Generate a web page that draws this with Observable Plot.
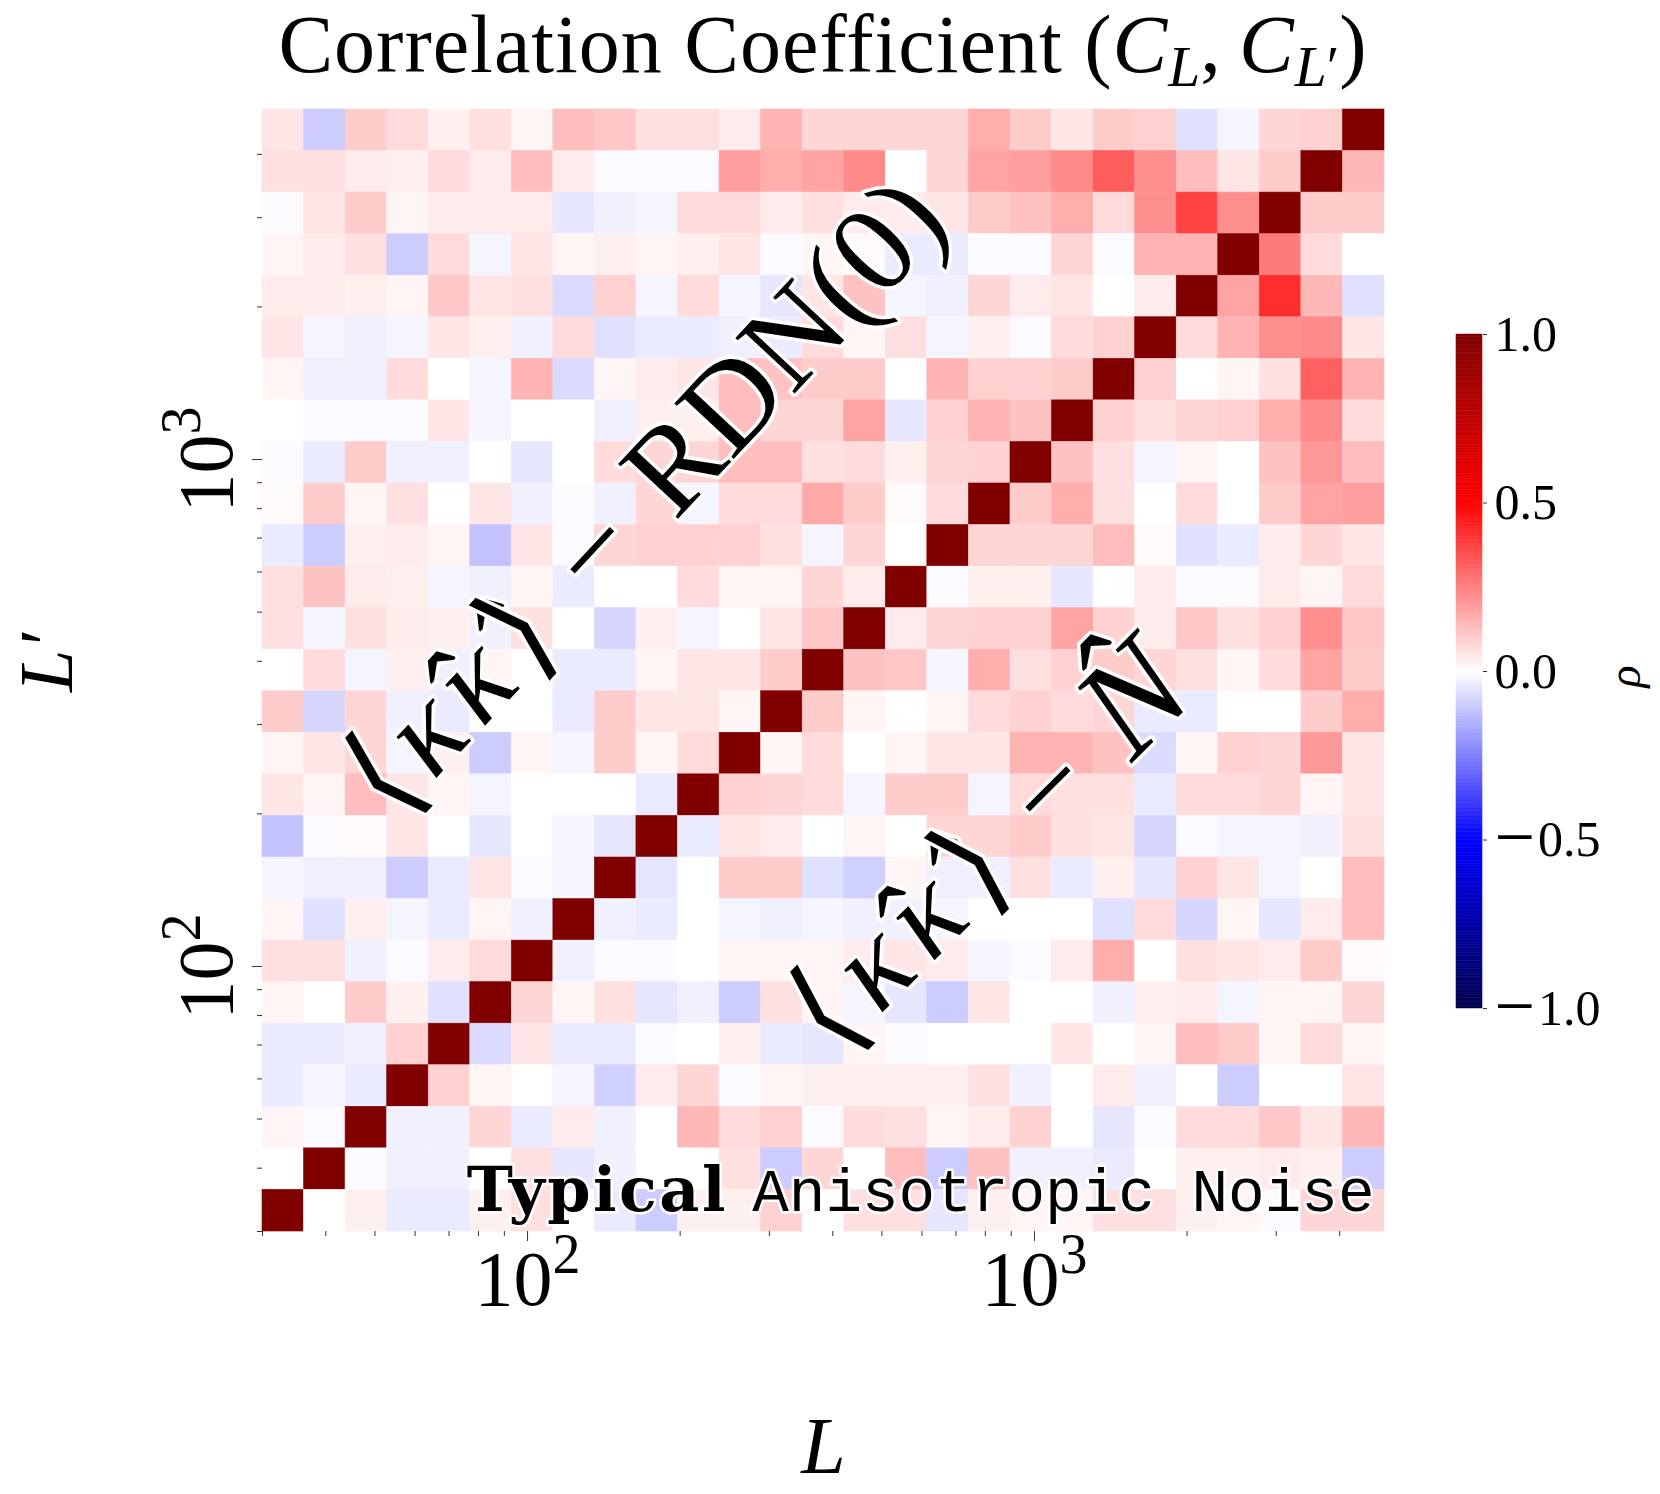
<!DOCTYPE html>
<html>
<head>
<meta charset="utf-8">
<script src="https://cdn.jsdelivr.net/npm/d3@7"></script>
<script src="https://cdn.jsdelivr.net/npm/@observablehq/plot@0.6"></script>
<style>
  body { margin: 0; background: #fff; }
  #wrap { position: relative; width: 1660px; height: 1494px; background: #fff; }
  #wrap svg { position: absolute; left: 0; top: 0; overflow: visible; }
  #title { position: absolute; left: 262px; width: 1122px; top: 5px; text-align: center;
           font-family: "Liberation Serif", serif; font-size: 82px; line-height: 80px; letter-spacing: 1px;
           white-space: nowrap; color: #000; z-index: 5; }
  #title sub { font-size: 0.7em; vertical-align: -0.24em; line-height: 0; letter-spacing: 0; }
</style>
</head>
<body>
<div id="wrap">
  <div id="title">Correlation Coefficient (<i>C</i><sub><i>L</i></sub>,&thinsp;<i>C</i><sub><i>L</i>′</sub>)</div>
</div>
<script>
// Multipole bin edges (log-spaced), shared by L (x) and L' (y)
const Ledges = [30.0, 36.24, 43.76, 52.86, 63.84, 77.10, 93.11, 112.45, 135.8, 164.0,
  198.1, 239.3, 289.0, 349.0, 421.5, 509.1, 614.8, 742.6, 896.9, 1083.2,
  1308.3, 1580.0, 1908.4, 2304.8, 2783.6, 3362.0, 4060.4, 4904.0];

// Correlation coefficient rho; rows from top (highest L' bin) to bottom, columns from lowest L bin
const rho = [
  [0.05,-0.1,0.1,0.07,0.03,0.06,0.02,0.13,0.11,0.06,0.06,0.04,0.15,0.08,0.08,0.08,0.08,0.16,0.1,0.05,0.1,0.09,-0.06,-0.02,0.08,0.09,1],
  [0.06,0.06,0.04,0.03,0.07,0.04,0.13,0.04,-0.01,-0.01,-0.01,0.19,0.16,0.18,0.23,0.0,0.08,0.18,0.19,0.23,0.32,0.22,0.13,0.05,0.1,1,0.14],
  [-0.01,0.05,0.1,0.02,0.04,0.04,0.04,-0.05,-0.03,-0.02,0.07,0.07,0.04,0.06,0.04,0.04,0.05,0.1,0.12,0.16,0.07,0.22,0.37,0.22,1,0.1,0.1],
  [0.02,0.04,0.06,-0.1,0.07,-0.02,0.05,0.02,0.03,0.02,0.03,0.05,-0.01,0.02,0.01,-0.04,-0.04,-0.01,-0.01,0.08,-0.01,0.15,0.15,1,0.26,0.07,0.0],
  [0.04,0.04,0.03,0.02,0.11,0.05,0.06,-0.07,0.09,-0.02,0.07,-0.02,-0.05,0.05,0.12,-0.02,-0.03,0.08,0.04,0.05,0.0,0.04,1,0.18,0.41,0.14,-0.06],
  [0.05,-0.02,-0.03,-0.02,0.05,0.03,-0.03,0.07,-0.06,-0.04,-0.04,-0.03,-0.04,0.07,0.02,0.06,-0.02,0.03,-0.01,0.07,0.09,1,0.07,0.15,0.22,0.23,0.05],
  [0.02,-0.03,-0.03,0.07,0.0,-0.02,0.15,-0.07,0.02,0.04,0.05,0.13,0.12,0.1,0.1,0.0,0.15,0.09,0.09,0.1,1,0.09,0.0,0.02,0.06,0.31,0.15],
  [0.0,-0.01,-0.01,-0.01,0.05,-0.02,0.0,0.0,-0.03,0.03,0.03,0.13,0.08,0.08,0.18,-0.05,0.09,0.15,0.12,1,0.09,0.06,0.08,0.09,0.16,0.23,0.07],
  [-0.01,-0.04,0.1,-0.03,-0.03,0.0,-0.05,0.0,0.07,0.08,0.08,0.13,0.13,0.06,0.07,0.03,0.08,0.09,1,0.12,0.06,-0.02,0.02,0.0,0.12,0.2,0.13],
  [0.01,0.1,0.02,0.06,0.0,0.05,-0.03,-0.01,-0.03,0.08,-0.02,0.07,0.07,0.17,0.1,0.01,0.07,1,0.1,0.16,0.06,0.0,0.07,0.0,0.1,0.18,0.19],
  [-0.04,-0.1,0.03,0.04,0.02,-0.12,0.05,-0.01,0.08,0.09,0.09,0.09,0.06,-0.02,0.08,0.0,1,0.08,0.08,0.08,0.13,0.01,-0.06,-0.04,0.04,0.08,0.05],
  [0.06,0.12,0.04,0.03,-0.02,-0.03,0.02,-0.04,0.0,0.0,0.07,0.02,0.02,0.08,0.04,1,-0.01,0.03,0.03,-0.05,0.0,0.04,-0.01,-0.01,0.04,0.02,0.07],
  [0.06,-0.02,0.06,0.04,0.03,-0.03,0.06,0.0,-0.08,0.03,-0.02,0.0,0.05,0.11,1,0.04,0.08,0.09,0.09,0.18,0.09,0.04,0.11,0.06,0.09,0.22,0.11],
  [0.0,0.07,-0.02,0.03,-0.03,0.02,0.0,-0.04,-0.04,0.02,0.05,0.05,0.1,1,0.12,0.11,-0.02,0.16,0.06,0.09,0.1,0.08,0.06,0.02,0.07,0.18,0.1],
  [0.1,-0.08,0.08,-0.03,-0.04,0.0,0.0,-0.04,0.1,0.05,0.05,0.02,1,0.1,0.02,0.0,0.02,0.07,0.09,0.07,0.08,-0.04,-0.04,0.0,0.0,0.1,0.16],
  [0.02,0.05,0.08,-0.02,0.03,-0.1,0.02,-0.02,0.1,0.02,0.07,1,0.02,0.07,0.0,0.02,0.05,0.05,0.15,0.15,0.12,-0.07,0.02,0.09,0.08,0.2,0.05],
  [0.05,0.02,0.13,0.05,0.02,-0.02,0.0,0.0,0.0,-0.04,1,0.09,0.08,0.07,-0.02,0.1,0.1,-0.02,0.07,0.06,0.06,-0.04,0.07,0.07,0.08,0.02,0.05],
  [-0.12,-0.01,0.01,0.05,0.0,-0.05,0.0,-0.02,-0.05,1,-0.04,0.05,0.04,0.0,0.02,0.0,0.08,0.08,0.1,0.06,0.05,-0.08,-0.01,-0.02,-0.02,-0.03,0.06],
  [-0.02,-0.03,-0.03,-0.1,-0.04,0.05,-0.01,-0.02,1,-0.05,0.0,0.1,0.1,-0.06,-0.09,0.02,-0.03,-0.03,0.06,-0.04,0.03,-0.05,0.09,0.05,-0.02,0.0,0.13],
  [0.02,-0.06,0.03,-0.02,-0.04,0.02,-0.03,1,-0.03,-0.04,0.0,-0.02,-0.03,-0.02,-0.03,-0.03,-0.02,0.0,0.0,0.0,-0.06,0.07,-0.08,0.02,-0.05,0.04,0.13],
  [0.06,0.06,-0.03,-0.01,0.04,0.07,1,-0.03,-0.01,-0.01,0.0,0.02,0.02,0.02,0.04,0.05,0.04,-0.02,-0.01,0.04,0.16,0.0,0.06,0.05,0.04,0.1,0.01],
  [0.02,0.0,0.1,0.03,-0.06,1,0.08,0.02,0.06,-0.05,-0.03,-0.1,0.06,0.02,-0.02,-0.05,-0.1,0.05,0.0,0.0,-0.03,0.03,0.04,-0.02,0.02,0.02,0.08],
  [-0.04,-0.04,-0.03,0.09,1,-0.07,0.05,-0.04,-0.04,-0.01,0.0,0.03,-0.04,-0.05,0.02,-0.01,0.0,0.0,0.0,0.05,0.0,0.02,0.13,0.1,0.02,0.07,0.02],
  [-0.04,-0.02,-0.04,1,0.09,0.02,0.0,-0.02,-0.09,0.04,0.08,-0.01,0.02,0.03,0.03,0.03,0.03,0.06,-0.03,0.0,0.04,-0.03,0.0,-0.1,0.0,0.0,0.05],
  [0.02,-0.01,1,-0.03,-0.03,0.08,-0.04,0.04,-0.03,0.0,0.14,0.07,0.09,-0.01,0.07,0.06,0.02,0.04,0.09,0.0,-0.05,-0.01,0.07,0.07,0.11,0.05,0.14],
  [0.0,1,-0.01,-0.03,-0.03,0.0,0.06,-0.05,-0.03,0.0,0.0,0.06,-0.1,0.08,0.0,0.13,-0.1,0.12,-0.03,-0.03,-0.04,0.0,0.03,0.03,0.04,0.03,-0.1],
  [1,0.0,0.03,-0.04,-0.04,0.03,0.06,0.0,-0.04,-0.1,0.03,0.03,0.09,0.0,0.06,0.06,-0.05,0.03,0.02,0.02,0.06,0.06,0.03,0.02,-0.01,0.08,0.08]
];

const majorTicks = [100, 1000];
const majorBase = "10";
const majorExponents = ["2", "3"];
const minorTicks = [30, 40, 50, 60, 70, 80, 90, 200, 300, 400, 500, 600, 700, 800, 900, 2000, 3000, 4000];
const cbarTicks = [-1, -0.5, 0, 0.5, 1];
const upperLabel = "⟨κ̂κ̂⟩ − RDN(0)";
const lowerLabel = "⟨κ̂κ̂⟩ − N̂";
const cornerLabel = "Typical Anisotropic Noise";

// matplotlib "seismic" colormap
const colorOpts = {
  type: "linear",
  domain: [-1, -0.5, 0, 0.5, 1],
  range: ["rgb(0,0,77)", "rgb(0,0,255)", "rgb(255,255,255)", "rgb(255,0,0)", "rgb(128,0,0)"],
  interpolate: "rgb"
};
const serif = "'Liberation Serif', 'DejaVu Serif', serif";

const n = rho.length;
const cells = [];
rho.forEach((row, r) => row.forEach((v, c) => {
  const i = n - 1 - r;
  cells.push({x1: Ledges[c], x2: Ledges[c + 1], y1: Ledges[i], y2: Ledges[i + 1], v});
}));

const Lmin = Ledges[0], Lmax = Ledges[Ledges.length - 1];
const fmtMajor = d => majorBase + "^" + majorExponents[majorTicks.indexOf(d)];

const main = Plot.plot({
  width: 1660, height: 1494,
  marginLeft: 262, marginRight: 276, marginTop: 109, marginBottom: 263,
  style: {background: "transparent", fontFamily: serif, color: "black"},
  x: {type: "log", domain: [Lmin, Lmax], axis: null, label: null},
  y: {type: "log", domain: [Lmin, Lmax], axis: null, label: null},
  color: colorOpts,
  marks: [
    Plot.rect(cells, {x1: "x1", x2: "x2", y1: "y1", y2: "y2", fill: "v", stroke: "v", strokeWidth: 0.6}),
    Plot.axisX({ticks: minorTicks, tickSize: 5, tickFormat: () => "", stroke: "#333", label: null}),
    Plot.axisX({ticks: majorTicks, tickSize: 10, tickPadding: 8, tickFormat: fmtMajor, stroke: "#333",
      fill: "black", fontSize: 78, fontFamily: serif, label: null}),
    Plot.axisY({ticks: minorTicks, tickSize: 5, tickFormat: () => "", stroke: "#333", label: null}),
    Plot.axisY({ticks: majorTicks, tickSize: 10, tickPadding: 21, tickRotate: -90, tickFormat: fmtMajor,
      stroke: "#333", fill: "black", fontSize: 78, fontFamily: serif, label: null}),
    // axis titles
    Plot.text(["L"], {text: d => d, frameAnchor: "bottom", dy: 241, lineAnchor: "bottom",
      fontSize: 80, fontStyle: "italic", fontFamily: serif, fill: "black"}),
    Plot.text(["L′"], {text: d => d, frameAnchor: "left", dx: -191, dy: -8, rotate: -90,
      lineAnchor: "bottom", textAnchor: "middle", fontSize: 76, fontStyle: "italic", fontFamily: serif, fill: "black"}),
    // annotations along the diagonal
    Plot.text([upperLabel], {text: d => d, x: [170], y: [845], rotate: -47, fontSize: 124,
      fontFamily: serif, fill: "black", stroke: "white", strokeWidth: 7, paintOrder: "stroke", strokeLinejoin: "round"}),
    Plot.text([lowerLabel], {text: d => d, x: [814.6], y: [170.1], rotate: -45, fontSize: 124,
      fontFamily: serif, fill: "black", stroke: "white", strokeWidth: 7, paintOrder: "stroke", strokeLinejoin: "round"}),
    Plot.text([cornerLabel], {text: d => d, frameAnchor: "bottom-right", dx: -10, dy: -21,
      textAnchor: "end", lineAnchor: "bottom", fontSize: 61, fontFamily: "'Liberation Mono', monospace",
      fill: "black", stroke: "white", strokeWidth: 5, paintOrder: "stroke", strokeLinejoin: "round"})
  ]
});

const cbarSteps = d3.range(256).map(i => ({y1: -1 + 2 * i / 256, y2: -1 + 2 * (i + 1) / 256, v: -1 + 2 * (i + 0.5) / 256}));
const cbar = Plot.plot({
  width: 1660, height: 1494,
  marginLeft: 1456, marginRight: 178, marginTop: 334, marginBottom: 486,
  style: {background: "transparent", fontFamily: serif, color: "black"},
  y: {domain: [-1, 1], axis: null, label: null},
  color: colorOpts,
  marks: [
    Plot.rect(cbarSteps, {y1: "y1", y2: "y2", fill: "v", stroke: "v", strokeWidth: 0.5}),
    Plot.axisY({anchor: "right", ticks: cbarTicks, tickSize: 4, tickPadding: 8, stroke: "#333", fill: "black",
      tickFormat: d => (d < 0 ? "−" : "") + Math.abs(d).toFixed(1), fontSize: 50, fontFamily: serif, label: null}),
    Plot.text(["ρ"], {text: d => d, frameAnchor: "right", dx: 157, dy: 5, rotate: -90, lineAnchor: "bottom",
      textAnchor: "middle", fontSize: 46, fontStyle: "italic", fontFamily: serif, fill: "black"})
  ]
});

const wrap = document.getElementById("wrap");
wrap.insertBefore(cbar, wrap.firstChild);
wrap.insertBefore(main, wrap.firstChild);

// mixed styling inside texts (italic symbols, superscripts, spacing)
function restyle(svg, content, parts) {
  d3.select(svg).selectAll("text").filter(function () { return this.textContent === content; })
    .each(function () {
      const t = d3.select(this);
      t.text(null);
      for (const p of parts) {
        const s = t.append("tspan").text(p.text);
        for (const [k, v] of Object.entries(p.attrs || {})) s.attr(k, v);
      }
    });
}
const it = {"font-style": "italic"};
restyle(main, upperLabel, [
  {text: "⟨"},
  {text: "κ̂", attrs: {...it, dx: 8}},
  {text: "κ̂", attrs: {...it, dx: 12}},
  {text: "⟩", attrs: {dx: 12}},
  {text: " −", attrs: {dx: 20}},
  {text: " RDN(0)", attrs: {dx: 11}}
]);
restyle(main, lowerLabel, [
  {text: "⟨"},
  {text: "κ̂", attrs: {...it, dx: 12}},
  {text: "κ̂", attrs: {...it, dx: 14}},
  {text: "⟩", attrs: {dx: 14}},
  {text: " −", attrs: {dx: 18}},
  {text: " "},
  {text: "N̂", attrs: {...it, dx: 12, "font-size": 140}}
]);
restyle(main, cornerLabel, [
  {text: "Typical ", attrs: {"font-family": "'DejaVu Serif', serif", "font-weight": "bold", "font-size": 62, "letter-spacing": 2.5}},
  {text: "Anisotropic Noise"}
]);
majorExponents.forEach(e => restyle(main, majorBase + "^" + e, [
  {text: majorBase},
  {text: e, attrs: {"font-size": 56, dy: -32}}
]));
cbarTicks.filter(d => d < 0).forEach(d => restyle(cbar, "−" + Math.abs(d).toFixed(1), [
  {text: "−", attrs: {"font-size": 72, dy: 5}},
  {text: Math.abs(d).toFixed(1), attrs: {dx: 3, dy: -5}}
]));
</script>
</body>
</html>
